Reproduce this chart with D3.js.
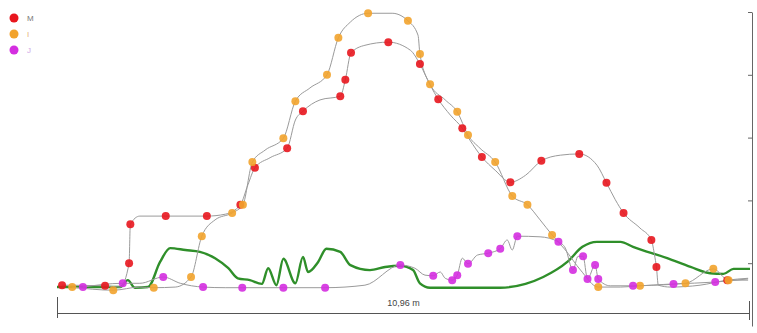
<!DOCTYPE html>
<html><head><meta charset="utf-8">
<script src="https://cdn.jsdelivr.net/npm/d3@7"></script>
<style>body{margin:0;background:#fff}svg{display:block}</style>
</head><body><svg id="c" width="757" height="333"></svg>
<script>
// distance (m), value, marker flag
const seriesNames = ["M", "I", "J"];
const totalLength = 10.96;
const distanceLabel = "10,96 m";
const yTicks = [1, 2, 3, 4, 5];

const seriesM = [[0.08,0.65,1],[0.76,0.64,1],[1.00,0.62,0],[1.14,1.00,1],[1.16,1.62,1],[1.31,1.75,0],[1.72,1.75,1],[2.37,1.75,1],[2.66,1.78,0],[2.90,1.93,1],[3.02,2.25,0],[3.13,2.52,1],[3.37,2.68,0],[3.64,2.83,1],[3.77,3.28,0],[3.89,3.42,1],[4.16,3.60,0],[4.48,3.66,1],[4.56,3.92,1],[4.65,4.35,1],[4.87,4.47,0],[5.24,4.52,1],[5.59,4.39,0],[5.74,4.17,1],[5.90,3.84,0],[6.03,3.61,1],[6.22,3.36,0],[6.41,3.15,1],[6.53,2.96,0],[6.72,2.69,1],[6.93,2.48,0],[7.17,2.29,1],[7.41,2.40,0],[7.66,2.63,1],[7.96,2.72,0],[8.26,2.74,1],[8.54,2.56,0],[8.69,2.28,1],[8.83,2.01,0],[8.96,1.80,1],[9.22,1.56,0],[9.40,1.37,1],[9.45,1.13,0],[9.48,0.94,1],[9.51,0.65,0],[9.70,0.62,0],[10.17,0.65,0],[10.60,0.73,1],[10.93,0.76,0]];

const seriesI = [[0.24,0.62,1],[0.89,0.57,1],[1.31,0.62,0],[1.53,0.61,1],[1.87,0.62,0],[2.12,0.78,1],[2.29,1.43,1],[2.50,1.69,0],[2.77,1.80,1],[2.94,1.93,1],[3.09,2.61,1],[3.29,2.80,0],[3.58,2.99,1],[3.77,3.58,1],[4.00,3.79,0],[4.27,4.00,1],[4.45,4.59,1],[4.64,4.84,0],[4.92,4.98,1],[5.30,4.98,0],[5.55,4.86,1],[5.71,4.63,0],[5.74,4.33,1],[5.90,3.85,1],[6.14,3.60,0],[6.33,3.41,1],[6.50,3.04,1],[6.69,2.83,0],[6.93,2.61,1],[7.20,2.07,1],[7.44,1.93,1],[7.64,1.69,0],[7.83,1.45,1],[8.04,1.21,0],[8.28,0.89,0],[8.56,0.62,1],[8.91,0.62,0],[9.22,0.64,1],[9.94,0.68,1],[10.38,0.91,1],[10.62,0.73,1],[10.93,0.73,0]];

const seriesJ = [[0.41,0.62,1],[1.04,0.68,1],[1.31,0.68,0],[1.68,0.78,1],[1.95,0.68,0],[2.31,0.62,1],[2.66,0.61,0],[2.93,0.61,1],[3.58,0.61,1],[4.24,0.61,1],[4.87,0.65,0],[5.43,0.97,1],[5.66,0.92,0],[5.82,0.81,0],[5.95,0.80,1],[6.06,0.86,0],[6.14,0.76,0],[6.25,0.73,1],[6.33,0.81,1],[6.41,1.08,0],[6.50,0.99,1],[6.65,1.13,0],[6.82,1.16,1],[7.01,1.23,1],[7.12,1.37,0],[7.20,1.21,0],[7.28,1.43,1],[7.64,1.42,0],[7.93,1.34,1],[8.04,1.24,0],[8.16,0.89,1],[8.24,1.11,0],[8.32,1.11,1],[8.39,0.75,1],[8.51,0.97,1],[8.56,0.75,1],[8.75,0.64,0],[9.11,0.64,1],[9.75,0.67,1],[10.41,0.70,1],[10.93,0.75,0]];

const seriesGreen = [[0,0.62],[1.00,0.62],[1.12,0.73],[1.23,0.61],[1.44,0.62],[1.63,1.02],[1.79,1.24],[2.03,1.21],[2.26,1.18],[2.50,1.08],[2.71,0.92],[2.86,0.76],[3.05,0.73],[3.24,0.67],[3.34,0.92],[3.47,0.65],[3.58,1.07],[3.77,0.68],[3.89,1.10],[3.97,0.86],[4.13,1.02],[4.26,1.23],[4.48,1.18],[4.64,0.97],[4.95,0.89],[5.19,0.94],[5.43,0.96],[5.63,0.89],[5.74,0.68],[5.90,0.61],[7.01,0.61],[7.41,0.67],[7.69,0.78],[8.07,1.02],[8.31,1.26],[8.54,1.34],[8.91,1.34],[9.11,1.26],[9.65,1.08],[10.02,0.94],[10.33,0.84],[10.54,0.83],[10.70,0.91],[10.96,0.91]];

const colors = ["#e8161e", "#f2a32c", "#d42ee0"];
const labelColors = ["#777", "#e6b57a", "#cda6e6"];

const svg = d3.select("#c");
const x = d3.scaleLinear().domain([0, totalLength]).range([57, 750]);
const y = d3.scaleLinear().domain([0, 5]).range([326, 12]);

// right axis
const ax = svg.append("g").attr("transform", "translate(752,0)")
  .call(d3.axisLeft(y).tickValues(yTicks).tickSize(4).tickSizeOuter(0).tickFormat(""));
ax.select(".domain").attr("stroke", "#666");
ax.selectAll(".tick line").attr("stroke", "#666");

// distance bar
const bar = svg.append("g").attr("stroke", "#555").attr("stroke-width", 1);
bar.append("line").attr("x1", x(0)).attr("x2", x(totalLength)).attr("y1", 313.5).attr("y2", 313.5);
bar.append("line").attr("x1", x(0)+0.5).attr("x2", x(0)+0.5).attr("y1", 297).attr("y2", 318);
bar.append("line").attr("x1", x(totalLength)-0.5).attr("x2", x(totalLength)-0.5).attr("y1", 301).attr("y2", 320);
svg.append("text").attr("x", (x(0)+x(totalLength))/2).attr("y", 306).attr("text-anchor", "middle")
  .attr("font-family", "Liberation Sans, Arial, sans-serif").attr("font-size", 9).attr("fill", "#444")
  .text(distanceLabel);

const lineM = d3.line().x(d => x(d[0])).y(d => y(d[1])).curve(d3.curveMonotoneX);

// green line
svg.append("path").datum(seriesGreen).attr("d", lineM)
  .attr("fill", "none").attr("stroke", "#2f8f2a").attr("stroke-width", 2.4).attr("stroke-linejoin", "round");

const all = [seriesM, seriesI, seriesJ];
all.forEach((s, i) => {
  svg.append("path").datum(s).attr("d", lineM)
    .attr("fill", "none").attr("stroke", "#9a9a9a").attr("stroke-width", 1);
});
all.forEach((s, i) => {
  svg.append("g").selectAll("circle").data(s.filter(d => d[2] === 1)).join("circle")
    .attr("cx", d => x(d[0])).attr("cy", d => y(d[1])).attr("r", 4)
    .attr("fill", colors[i]).attr("fill-opacity", 0.9);
});

// legend
const lg = svg.append("g");
seriesNames.forEach((n, i) => {
  lg.append("circle").attr("cx", 14).attr("cy", 18 + i*16).attr("r", 4.5).attr("fill", colors[i]);
  lg.append("text").attr("x", 27).attr("y", 21 + i*16).attr("font-family", "Liberation Sans, Arial, sans-serif")
    .attr("font-size", 8).attr("fill", labelColors[i]).text(n);
});
</script></body></html>
